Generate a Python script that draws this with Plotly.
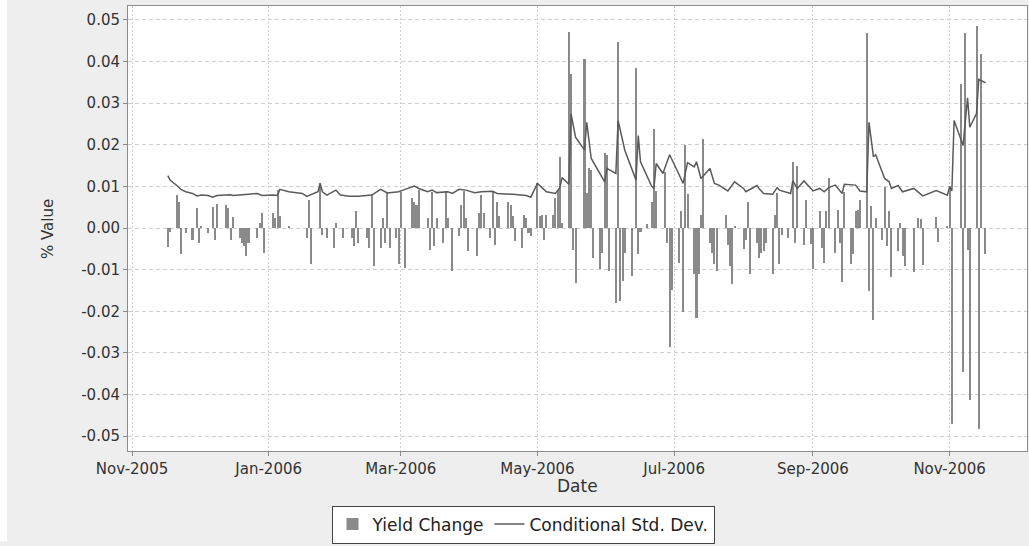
import plotly.graph_objects as go

# Daily yield changes (business days)
bar_dates = [
    "2005-11-17", "2005-11-18", "2005-11-21", "2005-11-22", "2005-11-23", "2005-11-25",
    "2005-11-28", "2005-11-30", "2005-12-01", "2005-12-02", "2005-12-05", "2005-12-07",
    "2005-12-08", "2005-12-09", "2005-12-13", "2005-12-14", "2005-12-15", "2005-12-16",
    "2005-12-19", "2005-12-20", "2005-12-21", "2005-12-22", "2005-12-23", "2005-12-27",
    "2005-12-28", "2005-12-29", "2005-12-30", "2006-01-03", "2006-01-04", "2006-01-05",
    "2006-01-06", "2006-01-10", "2006-01-18", "2006-01-19", "2006-01-20", "2006-01-24",
    "2006-01-25", "2006-01-27", "2006-01-30", "2006-01-31", "2006-02-03", "2006-02-07",
    "2006-02-08", "2006-02-09", "2006-02-10", "2006-02-14", "2006-02-15", "2006-02-16",
    "2006-02-17", "2006-02-20", "2006-02-21", "2006-02-22", "2006-02-23", "2006-02-24",
    "2006-02-27", "2006-02-28", "2006-03-01", "2006-03-03", "2006-03-06", "2006-03-07",
    "2006-03-08", "2006-03-09", "2006-03-13", "2006-03-14", "2006-03-15", "2006-03-16",
    "2006-03-17", "2006-03-20", "2006-03-21", "2006-03-22", "2006-03-24", "2006-03-27",
    "2006-03-28", "2006-03-29", "2006-03-30", "2006-03-31", "2006-04-04", "2006-04-05",
    "2006-04-06", "2006-04-07", "2006-04-10", "2006-04-11", "2006-04-12", "2006-04-13",
    "2006-04-14", "2006-04-18", "2006-04-19", "2006-04-20", "2006-04-21", "2006-04-24",
    "2006-04-25", "2006-04-26", "2006-04-27", "2006-04-28", "2006-05-01", "2006-05-02",
    "2006-05-03", "2006-05-04", "2006-05-05", "2006-05-08", "2006-05-09", "2006-05-10",
    "2006-05-11", "2006-05-12", "2006-05-15", "2006-05-16", "2006-05-17", "2006-05-18",
    "2006-05-22", "2006-05-23", "2006-05-24", "2006-05-25", "2006-05-26", "2006-05-29",
    "2006-05-30", "2006-05-31", "2006-06-01", "2006-06-02", "2006-06-05", "2006-06-06",
    "2006-06-07", "2006-06-08", "2006-06-09", "2006-06-12", "2006-06-14", "2006-06-15",
    "2006-06-16", "2006-06-19", "2006-06-21", "2006-06-22", "2006-06-23", "2006-06-27",
    "2006-06-28", "2006-06-29", "2006-06-30", "2006-07-03", "2006-07-04", "2006-07-05",
    "2006-07-06", "2006-07-07", "2006-07-10", "2006-07-11", "2006-07-12", "2006-07-13",
    "2006-07-14", "2006-07-17", "2006-07-18", "2006-07-19", "2006-07-20", "2006-07-24",
    "2006-07-25", "2006-07-26", "2006-07-27", "2006-07-28", "2006-08-01", "2006-08-02",
    "2006-08-03", "2006-08-04", "2006-08-07", "2006-08-08", "2006-08-09", "2006-08-10",
    "2006-08-11", "2006-08-14", "2006-08-15", "2006-08-16", "2006-08-17", "2006-08-18",
    "2006-08-21", "2006-08-23", "2006-08-24", "2006-08-25", "2006-08-28", "2006-08-29",
    "2006-08-31", "2006-09-01", "2006-09-04", "2006-09-05", "2006-09-06", "2006-09-07",
    "2006-09-08", "2006-09-11", "2006-09-12", "2006-09-13", "2006-09-14", "2006-09-15",
    "2006-09-18", "2006-09-19", "2006-09-20", "2006-09-21", "2006-09-22", "2006-09-25",
    "2006-09-26", "2006-09-27", "2006-09-28", "2006-09-29", "2006-10-02", "2006-10-03",
    "2006-10-04", "2006-10-05", "2006-10-06", "2006-10-09", "2006-10-10", "2006-10-11",
    "2006-10-12", "2006-10-16", "2006-10-18", "2006-10-19", "2006-10-20", "2006-10-26",
    "2006-10-27", "2006-10-31", "2006-11-01", "2006-11-02", "2006-11-06", "2006-11-07",
    "2006-11-08", "2006-11-09", "2006-11-10", "2006-11-13", "2006-11-14", "2006-11-15",
    "2006-11-17",
]
yield_change = [
    -0.0045, -0.0010, 0.0079, 0.0063, -0.0063, -0.0012,
    -0.0030, 0.0048, -0.0036, 0.0006, -0.0012, 0.0050,
    -0.0030, 0.0057, 0.0056, 0.0048, -0.0030, 0.0026,
    -0.0024, -0.0035, -0.0044, -0.0067, -0.0036, -0.0024,
    0.0012, 0.0036, -0.0060, 0.0036, 0.0025, 0.0091,
    0.0030, 0.0005, -0.0024, 0.0067, -0.0087, 0.0107,
    -0.0016, -0.0024, -0.0048, 0.0012, -0.0024, -0.0024,
    -0.0044, 0.0040, -0.0036, -0.0024, -0.0048, 0.0079,
    -0.0091, -0.0048, 0.0024, -0.0036, 0.0087, -0.0048,
    -0.0024, -0.0087, 0.0087, -0.0095, 0.0071, 0.0063,
    0.0056, 0.0091, 0.0024, -0.0052, 0.0087, -0.0044,
    0.0024, -0.0036, 0.0090, 0.0024, -0.0103, -0.0020,
    0.0056, 0.0090, 0.0024, -0.0056, -0.0067, 0.0036,
    0.0079, 0.0036, -0.0024, 0.0090, -0.0040, 0.0063,
    0.0030, 0.0063, 0.0056, 0.0028, -0.0032, -0.0048,
    0.0032, 0.0024, -0.0012, -0.0020, 0.0107, 0.0030,
    0.0032, -0.0030, 0.0032, 0.0032, 0.0071, 0.0092,
    0.0170, 0.0012, 0.0472, 0.0369, -0.0052, -0.0131,
    0.0405, 0.0083, 0.0143, 0.0140, -0.0071, -0.0099,
    -0.0060, 0.0179, 0.0175, -0.0103, -0.0179, 0.0448,
    -0.0176, -0.0127, -0.0060, -0.0115, 0.0385, -0.0063,
    -0.0010, 0.0010, 0.0062, 0.0238, 0.0090, 0.0135,
    -0.0036, -0.0286, -0.0150, -0.0083, 0.0042, -0.0202,
    0.0200, 0.0082, -0.0111, -0.0216, -0.0111, 0.0032,
    0.0214, -0.0036, -0.0060, -0.0087, -0.0103, 0.0032,
    -0.0040, -0.0091, -0.0135, 0.0006, -0.0050, -0.0028,
    0.0063, -0.0111, -0.0036, -0.0071, -0.0060, -0.0055,
    -0.0036, -0.0111, 0.0032, 0.0083, -0.0087, -0.0016,
    -0.0024, 0.0159, -0.0036, 0.0148, -0.0041, 0.0067,
    -0.0039, -0.0099, 0.0040, -0.0048, -0.0083, 0.0041,
    0.0121, -0.0060, 0.0044, -0.0036, -0.0129, 0.0087,
    -0.0087, -0.0063, 0.0040, 0.0044, 0.0067, 0.0468,
    -0.0151, 0.0052, -0.0221, 0.0024, -0.0028, 0.0098,
    -0.0044, 0.0042, -0.0117, -0.0056, 0.0012, -0.0067,
    -0.0091, -0.0106, 0.0024, 0.0022, -0.0089, 0.0026,
    -0.0033, 0.0006, 0.0102, -0.0472, 0.0345, -0.0345,
    0.0468, -0.0052, -0.0414, 0.0486, -0.0484, 0.0418,
    -0.0062,
]

# Conditional standard deviation
sd_dates = [
    "2005-11-17", "2005-11-18", "2005-11-21", "2005-11-23", "2005-11-25", "2005-11-28",
    "2005-11-30", "2005-12-02", "2005-12-05", "2005-12-07", "2005-12-09", "2005-12-13",
    "2005-12-15", "2005-12-16", "2005-12-20", "2005-12-23", "2005-12-27", "2005-12-29",
    "2006-01-03", "2006-01-05", "2006-01-06", "2006-01-10", "2006-01-16", "2006-01-18",
    "2006-01-23", "2006-01-24", "2006-01-25", "2006-01-27", "2006-01-31", "2006-02-02",
    "2006-02-06", "2006-02-10", "2006-02-16", "2006-02-20", "2006-02-23", "2006-02-28",
    "2006-03-02", "2006-03-07", "2006-03-09", "2006-03-13", "2006-03-15", "2006-03-17",
    "2006-03-22", "2006-03-24", "2006-03-27", "2006-03-30", "2006-04-03", "2006-04-06",
    "2006-04-11", "2006-04-13", "2006-04-20", "2006-04-26", "2006-04-28", "2006-05-01",
    "2006-05-03", "2006-05-05", "2006-05-09", "2006-05-11", "2006-05-12", "2006-05-15",
    "2006-05-16", "2006-05-18", "2006-05-22", "2006-05-23", "2006-05-25", "2006-05-29",
    "2006-05-31", "2006-06-01", "2006-06-05", "2006-06-06", "2006-06-09", "2006-06-14",
    "2006-06-15", "2006-06-16", "2006-06-21", "2006-06-22", "2006-06-23", "2006-06-26",
    "2006-06-29", "2006-07-03", "2006-07-05", "2006-07-07", "2006-07-10", "2006-07-11",
    "2006-07-13", "2006-07-17", "2006-07-19", "2006-07-21", "2006-07-25", "2006-07-28",
    "2006-08-01", "2006-08-02", "2006-08-07", "2006-08-08", "2006-08-10", "2006-08-14",
    "2006-08-16", "2006-08-17", "2006-08-22", "2006-08-23", "2006-08-25", "2006-08-28",
    "2006-09-01", "2006-09-04", "2006-09-06", "2006-09-08", "2006-09-11", "2006-09-14",
    "2006-09-15", "2006-09-20", "2006-09-22", "2006-09-25", "2006-09-26", "2006-09-28",
    "2006-09-29", "2006-10-03", "2006-10-05", "2006-10-06", "2006-10-09", "2006-10-11",
    "2006-10-16", "2006-10-20", "2006-10-26", "2006-10-31", "2006-11-01", "2006-11-02",
    "2006-11-03", "2006-11-07", "2006-11-09", "2006-11-10", "2006-11-13", "2006-11-14",
    "2006-11-17",
]
cond_sd = [
    0.0126, 0.0115, 0.0102, 0.0092, 0.0087, 0.0083,
    0.0077, 0.0079, 0.0078, 0.0074, 0.0078, 0.0079,
    0.0080, 0.0078, 0.0079, 0.0081, 0.0083, 0.0078,
    0.0079, 0.0078, 0.0093, 0.0087, 0.0083, 0.0076,
    0.0087, 0.0107, 0.0087, 0.0079, 0.0091, 0.0079,
    0.0076, 0.0076, 0.0079, 0.0093, 0.0084, 0.0087,
    0.0091, 0.0101, 0.0095, 0.0087, 0.0091, 0.0085,
    0.0087, 0.0083, 0.0093, 0.0091, 0.0085, 0.0087,
    0.0088, 0.0083, 0.0081, 0.0078, 0.0074, 0.0107,
    0.0097, 0.0087, 0.0083, 0.0097, 0.0121, 0.0105,
    0.0274, 0.0218, 0.0187, 0.0254, 0.0167, 0.0131,
    0.0111, 0.0143, 0.0131, 0.0258, 0.0187, 0.0115,
    0.0222, 0.0159, 0.0100, 0.0095, 0.0155, 0.0131,
    0.0176, 0.0131, 0.0107, 0.0157, 0.0147, 0.0159,
    0.0119, 0.0143, 0.0107, 0.0103, 0.0089, 0.0111,
    0.0095, 0.0087, 0.0102, 0.0094, 0.0083, 0.0081,
    0.0097, 0.0091, 0.0083, 0.0113, 0.0095, 0.0113,
    0.0089, 0.0095, 0.0087, 0.0097, 0.0103, 0.0083,
    0.0105, 0.0103, 0.0089, 0.0087, 0.0254, 0.0171,
    0.0176, 0.0119, 0.0111, 0.0095, 0.0102, 0.0087,
    0.0095, 0.0077, 0.0090, 0.0079, 0.0099, 0.0089,
    0.0258, 0.0198, 0.0313, 0.0242, 0.0275, 0.0357,
    0.0349,
]

y_ticks = [-0.05, -0.04, -0.03, -0.02, -0.01, 0.0, 0.01, 0.02, 0.03, 0.04, 0.05]
y_tick_text = ["%.2f" % v for v in y_ticks]

FONT = "DejaVu Sans"
DAY_MS = 86400000

fig = go.Figure()
fig.add_trace(go.Bar(
    x=bar_dates, y=yield_change, name="Yield Change",
    width=0.9 * DAY_MS,
    marker=dict(color="#8a8a8a", line=dict(width=0)),
))
fig.add_trace(go.Scatter(
    x=sd_dates, y=cond_sd, name="Conditional Std. Dev.", mode="lines",
    line=dict(color="#5a5a5a", width=1.5),
))

W, H = 1029, 546
L, R, T, B = 128, 2, 6, 91
pw, ph = W - L - R, H - T - B

def px_x(x):
    return (x - L) / pw

def px_y(y):
    return (H - B - y) / ph

fig.update_layout(
    width=W, height=H,
    margin=dict(l=L, r=R, t=T, b=B, pad=0),
    paper_bgcolor="#eeeeee",
    plot_bgcolor="#ffffff",
    font=dict(family=FONT, size=15, color="#333333"),
    bargap=0,
    showlegend=True,
    legend=dict(
        orientation="h", x=px_x(523), xanchor="center", y=px_y(510), yanchor="top",
        bgcolor="#ffffff", bordercolor="#444444", borderwidth=1,
        font=dict(family=FONT, size=17, color="#222222"),
        itemwidth=30, tracegroupgap=0,
    ),
    xaxis=dict(
        type="date",
        range=["2005-10-30 05:00", "2006-12-05 13:00"],
        tick0="2005-11-01", dtick="M2", tickformat="%b-%Y",
        showgrid=True, gridcolor="#cfcfcf", griddash="2px,2px", gridwidth=1,
        showline=True, linecolor="#8c8c8c", linewidth=1, mirror=True,
        ticks="outside", ticklen=4, tickcolor="#8c8c8c",
        tickfont=dict(family=FONT, size=15, color="#333333"),
        zeroline=False,
    ),
    yaxis=dict(
        range=[-0.05357, 0.05333],
        tickvals=y_ticks, ticktext=y_tick_text,
        showgrid=True, gridcolor="#cfcfcf", griddash="4px,3px", gridwidth=1,
        showline=True, linecolor="#8c8c8c", linewidth=1, mirror=True,
        ticks="outside", ticklen=4, tickcolor="#8c8c8c",
        tickfont=dict(family=FONT, size=15, color="#333333"),
        zeroline=False,
    ),
    annotations=[
        dict(text="Date", xref="paper", yref="paper", x=px_x(577), y=px_y(490),
             xanchor="center", yanchor="middle", showarrow=False,
             font=dict(family=FONT, size=17, color="#333333")),
        dict(text="% Value", xref="paper", yref="paper", x=px_x(48), y=px_y(231),
             xanchor="center", yanchor="middle", showarrow=False, textangle=-90,
             font=dict(family=FONT, size=15, color="#333333")),
    ],
    shapes=[
        dict(type="rect", xref="paper", yref="paper", layer="below",
             x0=px_x(0), x1=px_x(7), y0=px_y(H), y1=px_y(0),
             fillcolor="#ffffff", line=dict(width=0)),
    ],
)

fig.write_html("out.html")
